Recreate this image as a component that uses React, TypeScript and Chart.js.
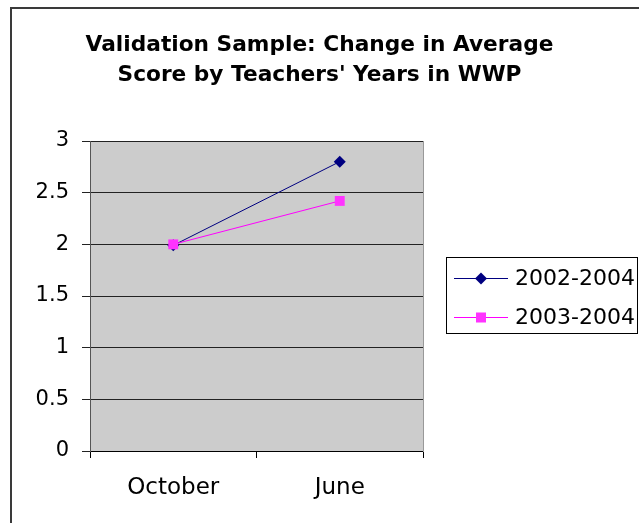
import React, { useEffect, useRef } from "react";
import { Chart, registerables } from "chart.js";

Chart.register(...registerables);

const categories = ["October", "June"];
const seriesNames = ["2002-2004", "2003-2004"];
const series2002 = [1.99, 2.8];
const series2003 = [2.0, 2.42];
const yMin = 0;
const yMax = 3;
const yStep = 0.5;
const titleLines = ["Validation Sample: Change in Average", "Score by Teachers' Years in WWP"];

const FONT = "'DejaVu Sans', 'Liberation Sans', Arial, sans-serif";
const W = 639;
const H = 523;

const framePlugin = {
  id: "frame",
  beforeDraw(chart: any) {
    const { ctx, chartArea } = chart;
    ctx.save();
    ctx.fillStyle = "#ffffff";
    ctx.fillRect(0, 0, chart.width, chart.height);
    ctx.fillStyle = "#CCCCCC";
    ctx.fillRect(chartArea.left, chartArea.top, chartArea.right - chartArea.left, chartArea.bottom - chartArea.top);
    ctx.strokeStyle = "#3a3a3a";
    ctx.lineWidth = 2;
    ctx.beginPath();
    ctx.moveTo(11, chart.height + 5);
    ctx.lineTo(11, 8);
    ctx.lineTo(chart.width + 5, 8);
    ctx.stroke();
    ctx.restore();
  },
  afterDraw(chart: any) {
    const { ctx } = chart;
    const bx = 446.5, by = 257.5, bw = 191, bh = 76;
    ctx.save();
    ctx.fillStyle = "#ffffff";
    ctx.fillRect(bx, by, bw, bh);
    ctx.strokeStyle = "#000000";
    ctx.lineWidth = 1;
    ctx.strokeRect(bx, by, bw, bh);
    const rows = [278.5, 317.5];
    chart.data.datasets.forEach((ds: any, i: number) => {
      const y = rows[i];
      ctx.strokeStyle = ds.borderColor;
      ctx.lineWidth = 1;
      ctx.beginPath();
      ctx.moveTo(454, y);
      ctx.lineTo(508, y);
      ctx.stroke();
      ctx.fillStyle = ds.backgroundColor;
      const cx = 481;
      if (ds.pointStyle === "rectRot") {
        ctx.beginPath();
        ctx.moveTo(cx, y - 6);
        ctx.lineTo(cx + 6, y);
        ctx.lineTo(cx, y + 6);
        ctx.lineTo(cx - 6, y);
        ctx.closePath();
        ctx.fill();
      } else {
        ctx.fillRect(cx - 5, y - 5, 10, 10);
      }
      ctx.fillStyle = "#000000";
      ctx.font = `22px ${FONT}`;
      ctx.textBaseline = "middle";
      ctx.textAlign = "left";
      ctx.fillText(ds.label, 515, y + 1);
    });
    ctx.restore();
  },
};

export default function App() {
  const ref = useRef<HTMLCanvasElement | null>(null);
  useEffect(() => {
    if (!ref.current) return;
    const chart = new Chart(ref.current, {
      type: "line",
      data: {
        labels: categories,
        datasets: [
          {
            label: seriesNames[0],
            data: series2002,
            borderColor: "#000080",
            backgroundColor: "#000080",
            borderWidth: 1,
            pointStyle: "rectRot",
            pointRadius: 6,
            pointBorderWidth: 0,
            pointHoverRadius: 6,
            order: 1,
          },
          {
            label: seriesNames[1],
            data: series2003,
            borderColor: "#FF00FF",
            backgroundColor: "#FF33FF",
            borderWidth: 1,
            pointStyle: "rect",
            pointRadius: 7,
            pointBorderWidth: 0,
            pointHoverRadius: 7,
            order: 0,
          },
        ],
      },
      options: {
        responsive: false,
        animation: false,
        events: [],
        layout: { padding: 0 },
        plugins: {
          legend: { display: false },
          tooltip: { enabled: false },
          title: {
            display: true,
            text: titleLines,
            color: "#000000",
            font: { family: FONT, size: 21.7, weight: "bold", lineHeight: "30px" },
            padding: { top: 30, bottom: 51 },
          },
        },
        scales: {
          x: {
            type: "category",
            offset: true,
            grid: {
              display: true,
              drawOnChartArea: false,
              offset: true,
              tickLength: 7,
              color: "#000000",
            },
            border: { display: true, color: "#000000", width: 1 },
            ticks: {
              color: "#000000",
              font: { family: FONT, size: 23 },
              padding: 16,
              maxRotation: 0,
            },
            afterFit(scale: any) {
              scale.height = 72;
            },
          },
          y: {
            min: yMin,
            max: yMax,
            ticks: {
              stepSize: yStep,
              color: "#000000",
              font: { family: FONT, size: 21 },
              padding: 13,
              callback: (v: any) => `${v}`,
            },
            grid: { color: "#222222", tickLength: 8, lineWidth: 1 },
            border: { display: true, color: "#555555", width: 1 },
            afterFit(scale: any) {
              scale.width = 90;
            },
          },
          y2: {
            position: "right",
            min: yMin,
            max: yMax,
            ticks: { display: false },
            grid: { display: false, drawTicks: false },
            border: { display: true, color: "#999999", width: 1 },
            afterFit(scale: any) {
              scale.width = W - 423;
            },
          },
        },
      },
      plugins: [framePlugin],
    } as any);
    return () => chart.destroy();
  }, []);
  return (
    <div style={{ position: "fixed", left: 0, top: 0, width: W, height: H, overflow: "hidden", background: "#fff" }}>
      <canvas ref={ref} width={W} height={H} style={{ display: "block", width: W, height: H }} />
    </div>
  );
}
